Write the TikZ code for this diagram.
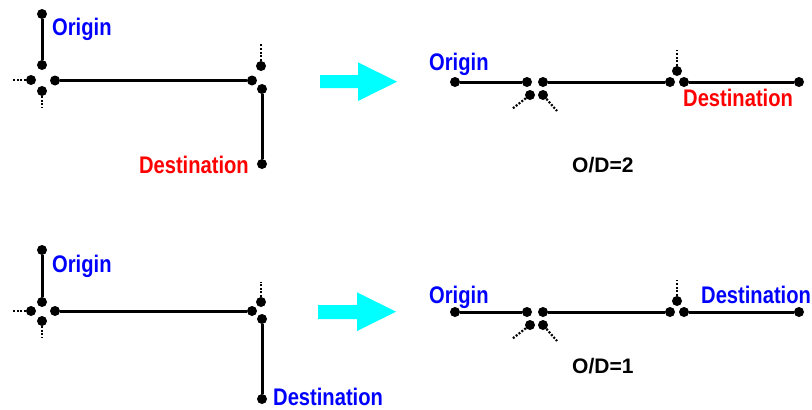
\documentclass[tikz,border=0pt]{standalone}
\usepackage{fontspec}
\newfontfamily\labelfont[FakeStretch=0.84]{Liberation Sans}
\newfontfamily\ratiofont{Liberation Sans}
\definecolor{oblue}{RGB}{0,0,255}
\definecolor{dred}{RGB}{255,0,0}
\definecolor{acyan}{RGB}{0,255,255}
\tikzset{
  dot/.style={circle, fill=black, inner sep=0pt, minimum size=10pt},
  link/.style={line width=3pt, black},
  stub/.style={line width=2.2pt, black, dash pattern=on 2pt off 1.6pt},
  lbl/.style={anchor=base west, inner sep=0pt, font=\labelfont\bfseries\fontsize{24}{28}\selectfont},
  ratio/.style={anchor=base west, inner sep=0pt, font=\ratiofont\bfseries\fontsize{21}{25}\selectfont},
  turn/.style={fill=acyan}
}
\begin{document}
\begin{tikzpicture}[x=1pt, y=-1pt]
\useasboundingbox (0,0) rectangle (812,410);

% ---------- upper left: turn with the origin on the upper street ----------
\node[dot] (o1t) at (42,14) {};
\node[dot] (o1b) at (42,65) {};
\node[dot] (l1) at (31,80) {};
\node[dot] (b1) at (42,91) {};
\node[dot] (r1) at (55,80.5) {};
\node[dot] (a1) at (252,80.5) {};
\node[dot] (t1) at (261,66) {};
\node[dot] (c1) at (262,89) {};
\node[dot] (d1) at (262,164) {};
\coordinate (l1e) at (13,80);
\coordinate (b1e) at (42,108);
\coordinate (t1e) at (261,44);
\draw[link] (o1t) -- (o1b);
\draw[link] (r1) -- (a1);
\draw[link] (c1) -- (d1);
\draw[stub] (l1) -- (l1e);
\draw[stub] (b1) -- (b1e);
\draw[stub] (t1) -- (t1e);
\node[lbl, text=oblue] (orig1) at (52,35) {Origin};
\node[lbl, text=dred, anchor=base east] (dest1) at (249,173) {Destination};

% ---------- upper right: straightened form ----------
\node[dot] (p1) at (455,82) {};
\node[dot] (q1) at (527,82) {};
\node[dot] (s1) at (543,82) {};
\node[dot] (u1) at (530,95) {};
\node[dot] (v1) at (543,95) {};
\node[dot] (w1) at (670,82) {};
\node[dot] (x1) at (684,82) {};
\node[dot] (y1) at (677,71) {};
\node[dot] (z1) at (799,82) {};
\coordinate (u1e) at (512,109);
\coordinate (v1e) at (557,111);
\coordinate (y1e) at (677,50);
\draw[link] (p1) -- (q1);
\draw[link] (s1) -- (w1);
\draw[link] (x1) -- (z1);
\draw[stub] (u1) -- (u1e);
\draw[stub] (v1) -- (v1e);
\draw[stub] (y1) -- (y1e);
\node[lbl, text=oblue] (orig2) at (429,70) {Origin};
\node[lbl, text=dred] (dest2) at (683,106) {Destination};
\node[ratio] (od2) at (572,172) {O/D=2};

% ---------- lower left ----------
\node[dot] (o2t) at (42,250) {};
\node[dot] (o2b) at (42,302) {};
\node[dot] (l2) at (31,311) {};
\node[dot] (b2) at (42,321) {};
\node[dot] (r2) at (55,311) {};
\node[dot] (a2) at (252,311) {};
\node[dot] (t2) at (261,302) {};
\node[dot] (c2) at (262,319) {};
\node[dot] (d2) at (262,399) {};
\coordinate (l2e) at (13,311);
\coordinate (b2e) at (42,338);
\coordinate (t2e) at (261,282);
\draw[link] (o2t) -- (o2b);
\draw[link] (r2) -- (a2);
\draw[link] (c2) -- (d2);
\draw[stub] (l2) -- (l2e);
\draw[stub] (b2) -- (b2e);
\draw[stub] (t2) -- (t2e);
\node[lbl, text=oblue] (orig3) at (52,272) {Origin};
\node[lbl, text=oblue] (dest3) at (273,405) {Destination};

% ---------- lower right ----------
\node[dot] (p2) at (455,312) {};
\node[dot] (q2) at (527,312) {};
\node[dot] (s2) at (543,312) {};
\node[dot] (u2) at (530,325) {};
\node[dot] (v2) at (543,325) {};
\node[dot] (w2) at (670,312) {};
\node[dot] (x2) at (684,312) {};
\node[dot] (y2) at (677,301) {};
\node[dot] (z2) at (799,312) {};
\coordinate (u2e) at (512,339);
\coordinate (v2e) at (557,341);
\coordinate (y2e) at (677,280);
\draw[link] (p2) -- (q2);
\draw[link] (s2) -- (w2);
\draw[link] (x2) -- (z2);
\draw[stub] (u2) -- (u2e);
\draw[stub] (v2) -- (v2e);
\draw[stub] (y2) -- (y2e);
\node[lbl, text=oblue] (orig4) at (429,303) {Origin};
\node[lbl, text=oblue] (dest4) at (701,303) {Destination};
\node[ratio] (od1) at (572,373) {O/D=1};

% ---------- transformation arrows ----------
\fill[turn] (320,75) -- (358,75) -- (358,62.3) -- (397,81.7) -- (358,101) -- (358,88) -- (320,88) -- cycle;
\fill[turn] (318,305) -- (357,305) -- (357,292.3) -- (396,311.7) -- (357,331) -- (357,319) -- (318,319) -- cycle;
\end{tikzpicture}
\end{document}
